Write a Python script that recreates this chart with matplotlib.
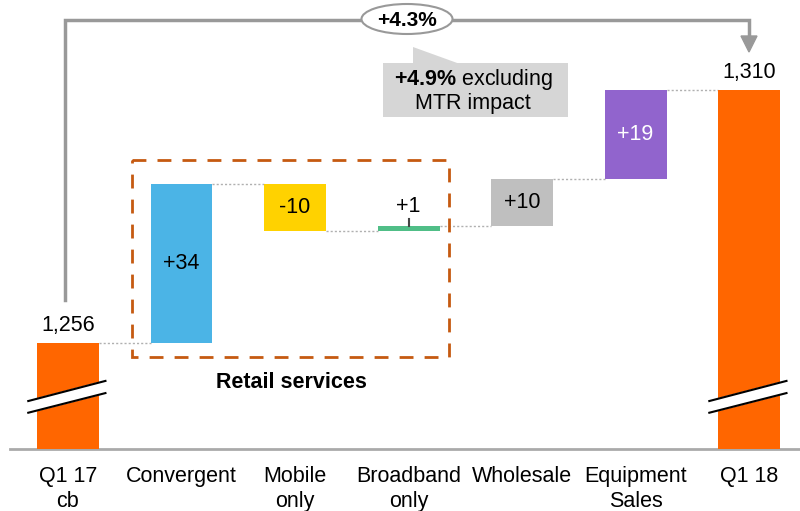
import numpy as np
import matplotlib
matplotlib.use("Agg")
import matplotlib.pyplot as plt
from matplotlib.patches import Ellipse, Rectangle, Polygon

plt.rcParams['font.family'] = ['Liberation Sans', 'DejaVu Sans']
plt.rcParams['mathtext.fontset'] = 'custom'
plt.rcParams['mathtext.rm'] = 'Liberation Sans'
plt.rcParams['mathtext.bf'] = 'Liberation Sans:bold'

# data
categories = ["Q1 17\ncb", "Convergent", "Mobile\nonly", "Broadband\nonly",
              "Wholesale", "Equipment\nSales", "Q1 18"]
start_total = 1256
changes = [34, -10, 1, 10, 19]
end_total = 1310
change_labels = ["+34", "-10", "+1", "+10", "+19"]
total_labels = ["1,256", "1,310"]
colors = ["#FF6600", "#4BB4E6", "#FFD200", "#50BE87", "#BFBFBF", "#9164CD", "#FF6600"]

FS = 15.5
axis_floor = 1233.4   # broken axis: bars start here
fig = plt.figure(figsize=(8, 5.11), dpi=100)
ax = fig.add_axes([0, 0, 1, 1])
ax.set_xlim(-0.599, 6.449)
ax.set_ylim(1220.1, 1329.3)
ax.axis("off")

w = 0.546
x = np.arange(len(categories))

# waterfall
bottoms, heights = [axis_floor], [start_total - axis_floor]
level = start_total
for c in changes:
    bottoms.append(min(level, level + c))
    heights.append(abs(c))
    level += c
bottoms.append(axis_floor)
heights.append(end_total - axis_floor)
ax.bar(x, heights, bottom=bottoms, width=w, color=colors, zorder=2)

# connectors
levels = [start_total]
for c in changes:
    levels.append(levels[-1] + c)
for i in range(len(levels)):
    ax.plot([x[i] + w / 2, x[i + 1] - w / 2], [levels[i], levels[i]],
            color="#b0b0b0", lw=1, ls=(0, (1.5, 1.5)), zorder=1)

# totals labels
ax.text(x[0], start_total + 1.6, total_labels[0], ha="center", va="bottom", fontsize=FS)
ax.text(x[-1], end_total + 1.6, total_labels[1], ha="center", va="bottom", fontsize=FS)

# change labels
for i, (c, lab) in enumerate(zip(changes, change_labels)):
    xi = x[i + 1]
    lo, hi = levels[i], levels[i + 1]
    if abs(c) < 5:
        ax.text(xi, max(lo, hi) + 1.9, lab, ha="center", va="bottom", fontsize=FS)
        ax.plot([xi, xi], [max(lo, hi), max(lo, hi) + 1.5], color="#444444", lw=1.5, zorder=3)
    else:
        col = "white" if i == 4 else "black"
        ax.text(xi, (lo + hi) / 2, lab, ha="center", va="center", fontsize=FS, color=col, zorder=3)

# axis break marks
for xi in [x[0], x[-1]]:
    x0, x1 = xi - 0.35, xi + 0.33
    poly = Polygon([[x0, 1243.6], [x1, 1247.9], [x1, 1245.3], [x0, 1241.1]],
                   closed=True, color="white", zorder=3)
    ax.add_patch(poly)
    ax.plot([x0, x1], [1243.6, 1247.9], color="black", lw=1.5, zorder=4)
    ax.plot([x0, x1], [1241.1, 1245.3], color="black", lw=1.5, zorder=4)

# baseline
ax.axhline(axis_floor, xmin=10 / 800, xmax=1, color="#aaaaaa", lw=2, zorder=1)

# category labels
for xi, cat in zip(x, categories):
    ax.text(xi, 1220.1 + (511 - 466) / 4.68, cat, ha="center", va="top",
            fontsize=FS, linespacing=1.25)

# overlay in pixel coordinates for annotations
ov = fig.add_axes([0, 0, 1, 1], facecolor="none")
ov.set_xlim(0, 800)
ov.set_ylim(511, 0)
ov.axis("off")

# growth bracket
ov.plot([65, 65, 749, 749], [300, 20, 20, 38], color="#999999", lw=2.5,
        solid_joinstyle="miter")
ov.add_patch(Polygon([[741, 36], [757, 36], [749, 52]], closed=True, color="#999999"))
ov.add_patch(Ellipse((407, 19), 91, 30, facecolor="white", edgecolor="#999999", lw=1.5, zorder=3))
ov.text(407, 20, "+4.3%", ha="center", va="center", fontsize=FS - 0.5, fontweight="bold", zorder=4)

# callout
ov.add_patch(Rectangle((383, 63), 185, 54, color="#d6d6d6", lw=0))
ov.add_patch(Polygon([[413, 47], [413, 64], [460, 64]], closed=True, color="#d6d6d6", lw=0))
ov.text(473, 80, r"$\bf{+4.9\%}$ excluding", ha="center", va="center", fontsize=FS)
ov.text(473, 103, "MTR impact", ha="center", va="center", fontsize=FS)

# retail services box
ov.add_patch(Rectangle((132, 160), 317, 197, fill=False, edgecolor="#C55A11",
                       lw=2, ls=(0, (5, 4)), zorder=5))
ov.text(291, 382, "Retail services", ha="center", va="center", fontsize=FS, fontweight="bold")

fig.savefig("out.png", dpi=100)
